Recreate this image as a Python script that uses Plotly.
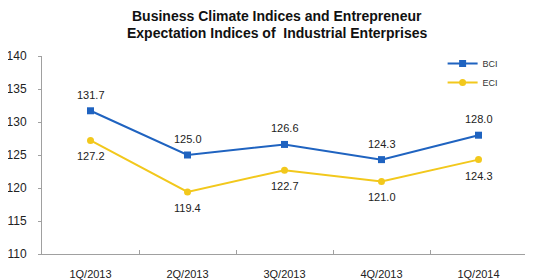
import plotly.graph_objects as go

quarters = ["1Q/2013", "2Q/2013", "3Q/2013", "4Q/2013", "1Q/2014"]
bci = [131.7, 125.0, 126.6, 124.3, 128.0]
eci = [127.2, 119.4, 122.7, 121.0, 124.3]
y_ticks = [110, 115, 120, 125, 130, 135, 140]
title_lines = ["Business Climate Indices and Entrepreneur",
               "Expectation Indices of  Industrial Enterprises"]

BLUE = "#1F63C0"
YELLOW = "#F2C81C"
FONT = "Liberation Sans, Arial, sans-serif"

fig = go.Figure()
fig.add_trace(go.Scatter(x=quarters, y=bci, name="BCI", mode="lines+markers",
                         line=dict(color=BLUE, width=2),
                         marker=dict(symbol="square", size=7, color=BLUE)))
fig.add_trace(go.Scatter(x=quarters, y=eci, name="ECI", mode="lines+markers",
                         line=dict(color=YELLOW, width=2),
                         marker=dict(symbol="circle", size=7, color=YELLOW)))

for q, v in zip(quarters, bci):
    fig.add_annotation(x=q, y=v, text=f"{v:.1f}", showarrow=False, yshift=16,
                       font=dict(size=11, color="#222", family=FONT))
for q, v in zip(quarters, eci):
    fig.add_annotation(x=q, y=v, text=f"{v:.1f}", showarrow=False, yshift=-16,
                       font=dict(size=11, color="#222", family=FONT))

# chart title (two lines)
for line, ypos in zip(title_lines, [1.202, 1.116]):
    fig.add_annotation(text=f"<b>{line}</b>", xref="paper", yref="paper",
                       x=0.485, y=ypos, xanchor="center", yanchor="middle",
                       showarrow=False, font=dict(size=14, color="#111", family=FONT))

fig.update_layout(
    width=525, height=272,
    margin=dict(l=34, r=6, t=48, b=26, autoexpand=False),
    paper_bgcolor="white", plot_bgcolor="white",
    font=dict(family=FONT, size=11, color="#222"),
    showlegend=True,
    legend=dict(x=0.826, y=1.035, xanchor="left", yanchor="top",
                bgcolor="rgba(0,0,0,0)", font=dict(size=9, color="#333"),
                itemwidth=30, tracegroupgap=2),
    xaxis=dict(showline=True, linecolor="#A0A0A0", linewidth=1, range=[-0.5, 4.5],
               ticks="inside", tickson="boundaries", ticklen=4, tickcolor="#A0A0A0",
               showgrid=False, tickfont=dict(size=11), ticklabelstandoff=10,
               fixedrange=True),
    yaxis=dict(range=[110, 140], tickvals=y_ticks, showline=True, linecolor="#A0A0A0",
               linewidth=1, ticks="outside", ticklen=3, tickcolor="#A0A0A0",
               showgrid=False, zeroline=False, tickfont=dict(size=12),
               ticklabelstandoff=9),
)

fig.write_html("out.html")
